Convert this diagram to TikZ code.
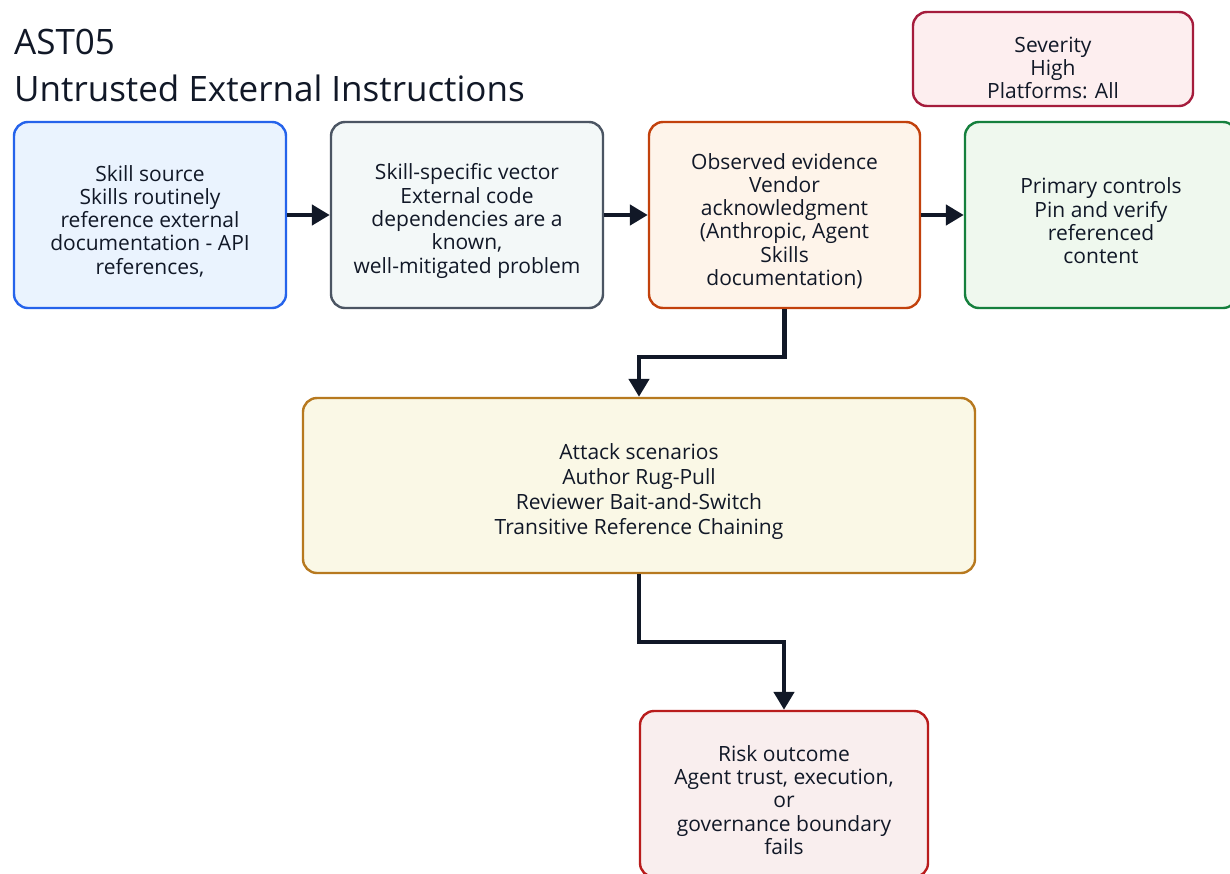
\documentclass[tikz,border=0pt]{standalone}
\usepackage{fontspec}
\setmainfont{Open Sans}
\usetikzlibrary{arrows.meta}

\definecolor{ink}{HTML}{111827}
\definecolor{sevDraw}{HTML}{A51C3C}\definecolor{sevFill}{HTML}{FDEEEF}
\definecolor{srcDraw}{HTML}{2563EB}\definecolor{srcFill}{HTML}{EAF3FE}
\definecolor{vecDraw}{HTML}{4B5563}\definecolor{vecFill}{HTML}{F3F8F8}
\definecolor{obsDraw}{HTML}{C2410C}\definecolor{obsFill}{HTML}{FEF4EA}
\definecolor{ctlDraw}{HTML}{15803D}\definecolor{ctlFill}{HTML}{EFF8EE}
\definecolor{atkDraw}{HTML}{B7791F}\definecolor{atkFill}{HTML}{FAF8E6}
\definecolor{rskDraw}{HTML}{B91C1C}\definecolor{rskFill}{HTML}{F9EEEE}

\tikzset{
  card/.style={draw=#1Draw, fill=#1Fill, line width=2.4pt, rounded corners=14pt, inner sep=0pt},
  cardtext/.style={align=center, text=ink, inner sep=0pt, yshift=-6pt,
    font=\fontsize{21}{23.3}\selectfont},
  flow/.style={draw=ink, line width=4.5pt, -{Triangle[length=18pt,width=20pt]}},
  heading/.style={anchor=base west, text=ink, inner sep=0pt, font=\fontsize{35}{40}\selectfont}
}

\begin{document}
\begin{tikzpicture}[x=1pt,y=-1pt]
  \useasboundingbox[fill=white] (0,0) rectangle (1230,873);

  % title
  \node[heading] (id) at (14,54) {AST05};
  \node[heading] (title) at (14,101) {Untrusted External Instructions};

  % severity badge
  \node[card=sev, minimum width=280pt, minimum height=94pt,
    label={[cardtext, yshift=-3pt]center:Severity\\High\\Platforms: All}] (sev) at (1053,59) {};

  % top row
  \node[card=src, minimum width=272pt, minimum height=186pt,
    label={[cardtext]center:Skill source\\Skills routinely\\reference external\\documentation - API\\references,}] (src) at (150,215) {};
  \node[card=vec, minimum width=272pt, minimum height=186pt,
    label={[cardtext]center:Skill-specific vector\\External code\\dependencies are a\\known,\\well-mitigated problem}] (vec) at (467,215) {};
  \node[card=obs, minimum width=271pt, minimum height=186pt,
    label={[cardtext]center:Observed evidence\\Vendor\\acknowledgment\\(Anthropic, Agent\\Skills\\documentation)}] (obs) at (784.5,215) {};
  \node[card=ctl, minimum width=272pt, minimum height=186pt,
    label={[cardtext]center:Primary controls\\Pin and verify\\referenced\\content}] (ctl) at (1101,215) {};

  % attack scenarios
  \node[card=atk, minimum width=672pt, minimum height=175pt,
    label={[cardtext, font=\fontsize{21}{25.3}\selectfont]center:Attack scenarios\\Author Rug-Pull\\Reviewer Bait-and-Switch\\Transitive Reference Chaining}] (atk) at (639,485.5) {};

  % outcome
  \node[card=rsk, minimum width=288pt, minimum height=166pt,
    label={[cardtext]center:Risk outcome\\Agent trust, execution,\\or\\governance boundary\\fails}] (rsk) at (784,794) {};

  % connectors
  \draw[flow] (src.east) -- (vec.west);
  \draw[flow] (vec.east) -- (obs.west);
  \draw[flow] (obs.east) -- (ctl.west);
  \draw[flow] (obs.south) -- ++(0,48) -| (atk.north);
  \draw[flow] (atk.south) -- ++(0,68) -| (rsk.north);
\end{tikzpicture}
\end{document}
